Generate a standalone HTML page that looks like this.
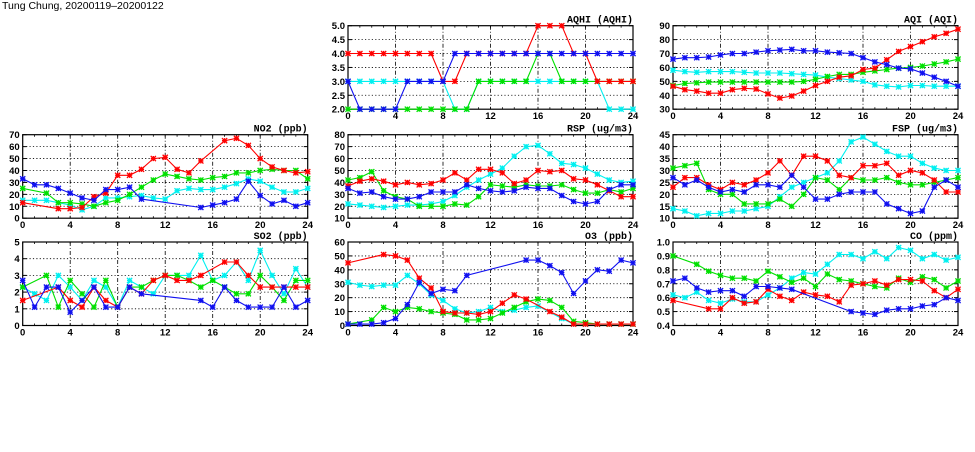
<!DOCTYPE html>
<html><head><meta charset="utf-8"><style>
html,body{margin:0;padding:0;background:#fff;}
svg text{font-family:"Liberation Sans",sans-serif;font-weight:bold;font-size:9.5px;fill:#000;}
svg text.pt{font-family:"Liberation Mono",monospace;font-size:10px;}
</style></head><body>
<svg id="s" width="975" height="447" viewBox="0 0 975 447" xmlns="http://www.w3.org/2000/svg">
<text x="2" y="9" style="font-size:10.5px;font-weight:normal">Tung Chung, 20200119–20200122</text>
</svg>
<script>
const S=document.getElementById('s');const NS='http://www.w3.org/2000/svg';
function el(t,a,txt){const e=document.createElementNS(NS,t);for(const k in a)e.setAttribute(k,a[k]);if(txt!==undefined)e.textContent=txt;S.appendChild(e);return e;}
function arr(a){return a.map((v,i)=>[i,v]);}
function obj(o){return Object.keys(o).map(k=>[+k,o[k]]);}
function fill(a,b,v){const o={};for(let i=a;i<=b;i++)o[i]=v;return o;}
const W=285,H=83.5;
const C={c:'#00f0f0',g:'#00e000',r:'#ff0000',b:'#1010f0'};
const P=[
{x:348,y:25.7,t:'AQHI (AQHI)',min:2,max:5,step:0.5,dec:1,s:{
 c:obj(Object.assign(fill(0,8,3),{9:2,10:2},fill(11,21,3),{22:2,23:2,24:2})),
 g:obj(Object.assign(fill(0,10,2),fill(11,15,3),{16:4,17:4},fill(18,24,3))),
 r:obj(Object.assign(fill(0,7,4),{8:3,9:3},fill(10,15,4),{16:5,17:5,18:5,19:4,20:4},fill(21,24,3))),
 b:obj(Object.assign({0:3,1:2,2:2,3:2,4:2,5:3,6:3,7:3,8:3},fill(9,24,4)))}},
{x:673,y:25.7,t:'AQI (AQI)',min:30,max:90,step:10,dec:0,s:{
 c:arr([58,57,56.5,57,57,57,56.5,56,56,56,55.5,55,54.5,53,52,51,50,47.5,46.5,46,47,47,46.5,46.5,46.5]),
 g:arr([47,48.5,49,49.5,49.5,49.5,49.5,49.5,49.5,49.5,49.5,50,51.5,53.5,55,55,56.5,57.5,58.5,59.5,60,61,62.5,64,66]),
 r:arr([46.5,44,43,41.5,41.5,44,45,44.5,41,38,39.5,43,47,50,53,54,58.5,59.5,65.5,71.5,75,78.5,82,84.5,87.5]),
 b:arr([66,67,67,67.5,69,70,70,71,72,72.5,73,72,72,71,70.5,70,67,64,62,59.5,59,56,53,50,46.5])}},
{x:22.7,y:134.7,t:'NO2 (ppb)',min:0,max:70,step:10,dec:0,s:{
 c:arr([15,15,15,13,11,7,10,17,17,18,19,17,16,23,25,24,24,26,29,33,31,26,22,22,25]),
 g:obj({0:25,2:21,3:13,4:13,5:12,6:10,7:13,8:15,9:20,10:26,11:32,12:37,13:35,14:33,15:32,16:34,17:35,18:38,19:38,20:40,21:41,22:40,23:40,24:33}),
 r:obj({0:13,3:8,4:8,5:9,6:18,7:21,8:36,9:36,10:41,11:50,12:51,13:41,14:38,15:48,17:65,18:67,19:61,20:50,21:43,22:40,23:38,24:39}),
 b:obj({0:33,1:28,2:28,3:25,4:21,5:17,6:15,7:24,8:24,9:26,10:16,15:9,16:11,17:13,18:16,19:31,20:19,21:12,22:15,23:10,24:13})}},
{x:348,y:134.7,t:'RSP (ug/m3)',min:10,max:80,step:10,dec:0,s:{
 c:arr([22,21,20,19,20,21,21,22,24,29,36,42,47,52,62,70,71,64,56,55,52,47,42,40,41]),
 g:arr([42,44,49,33,28,26,20,20,20,22,21,28,38,37,36,38,37,37,38,34,31,31,34,32,35]),
 r:arr([37,41,43,41,38,40,38,39,42,48,42,51,51,48,39,42,50,49,50,43,42,38,33,28,28]),
 b:arr([35,31,32,28,26,26,28,32,32,32,38,35,33,32,33,36,35,35,29,24,22,24,34,38,38])}},
{x:673,y:134.7,t:'FSP (ug/m3)',min:10,max:45,step:5,dec:0,s:{
 c:arr([14,13,11,12,12,13,13,14,15,19,23,25,27,29,34,42,44,41,38,36,36,33,31,30,30]),
 g:arr([31,32,33,22,20,20,16,16,16,18,15,20,27,26,22,27,26,26,27,25,24,24,25,26,27]),
 r:arr([23,27,27,24,22,25,24,26,29,34,28,36,36,34,28,27,32,32,33,28,30,29,26,21,21]),
 b:arr([27,24,26,23,21,22,21,24,24,23,28,23,18,18,20,21,21,21,16,14,12,13,23,26,23])}},
{x:22.7,y:242,t:'SO2 (ppb)',min:0,max:5,step:1,dec:0,s:{
 c:arr([2.3,1.9,1.5,3.0,2.3,1.5,2.7,2.3,1.1,2.7,2.3,1.9,3.0,3.0,3.0,4.2,2.7,3.0,3.8,2.7,4.5,3.0,1.9,3.4,2.3]),
 g:obj({0:2.3,2:3.0,3:1.1,4:2.7,5:1.9,6:1.1,7:2.7,8:1.1,9:2.3,10:2.3,11:2.7,12:3.0,13:3.0,14:2.7,15:2.3,16:2.7,17:2.3,18:1.9,19:1.9,20:3.0,21:2.3,22:1.5,23:2.7,24:2.7}),
 r:obj({0:1.5,3:2.3,4:1.5,5:1.1,6:2.3,7:1.5,8:1.1,9:2.3,10:1.9,11:2.7,12:3.0,13:2.7,14:2.7,15:3.0,17:3.8,18:3.8,19:3.0,20:2.3,21:2.3,22:2.3,23:2.3,24:2.3}),
 b:obj({0:2.7,1:1.1,2:2.3,3:2.3,4:0.8,5:1.5,6:2.3,7:1.1,8:1.1,9:2.3,10:1.9,15:1.5,16:1.1,17:2.3,18:1.5,19:1.1,20:1.1,21:1.1,22:2.3,23:1.1,24:1.5})}},
{x:348,y:242,t:'O3 (ppb)',min:0,max:60,step:10,dec:0,s:{
 c:obj({0:31,1:29,2:28,3:29,4:29,5:36,6:30,7:22,8:18,9:12,10:9,11:10,12:13,13:10,14:11,15:13,16:14,18:5,19:1,20:1,21:1,22:1,23:1,24:1}),
 g:obj({0:1,2:4,3:13,4:10,5:13,6:12,7:10,8:9,9:8,10:4,11:4,12:5,13:9,14:13,15:17,16:19,17:18,18:13,19:3,20:2,21:1,22:1,23:1,24:1}),
 r:obj({0:45,3:51,4:50,5:47,6:34,7:27,8:10,9:9,10:9,11:8,12:10,13:16,14:22,15:19,17:10,18:6,19:1,20:1,21:1,22:1,23:1,24:1}),
 b:obj({0:1,1:1,2:1,3:2,4:5,5:15,6:31,7:23,8:26,9:25,10:36,15:47,16:47,17:43,18:38,19:23,20:32,21:40,22:39,23:47,24:45})}},
{x:673,y:242,t:'CO (ppm)',min:0.4,max:1.0,step:0.1,dec:1,s:{
 c:arr([.62,.60,.64,.58,.56,.59,.57,.57,.62,.67,.74,.78,.77,.84,.91,.91,.88,.93,.88,.96,.94,.88,.91,.87,.89]),
 g:obj({0:.90,2:.84,3:.79,4:.76,5:.74,6:.74,7:.72,8:.79,9:.75,10:.71,11:.74,12:.68,13:.77,14:.73,15:.72,16:.70,17:.68,18:.67,19:.74,20:.71,21:.75,22:.73,23:.67,24:.72}),
 r:obj({0:.58,3:.52,4:.52,5:.60,6:.56,7:.57,8:.66,9:.61,10:.58,11:.64,12:.62,13:.61,14:.57,15:.69,16:.70,17:.72,18:.69,19:.73,20:.73,21:.72,22:.65,23:.60,24:.66}),
 b:obj({0:.72,1:.74,2:.67,3:.64,4:.65,5:.65,6:.61,7:.68,8:.68,9:.67,10:.66,15:.50,16:.49,17:.48,18:.51,19:.52,20:.52,21:.54,22:.55,23:.60,24:.58})}}
];
for(const p of P){
 const X=h=>p.x+h/24*W, Y=v=>p.y+H-(v-p.min)/(p.max-p.min)*H;
 const n=Math.round((p.max-p.min)/p.step);
 for(let i=0;i<=n;i++){const v=p.min+i*p.step,y=Y(v);
  if(i>0&&i<n)el('line',{x1:p.x,x2:p.x+W,y1:y,y2:y,stroke:'#000','stroke-width':0.8,'stroke-dasharray':'1.2,2.2'});
  el('line',{x1:p.x,x2:p.x+4,y1:y,y2:y,stroke:'#000','stroke-width':1});
  el('line',{x1:p.x+W-4,x2:p.x+W,y1:y,y2:y,stroke:'#000','stroke-width':1});
  el('text',{x:p.x-3,y:y+3.5,'text-anchor':'end'},v.toFixed(p.dec));}
 for(let h=0;h<=24;h+=4){const x=X(h);
  if(h>0&&h<24)el('line',{x1:x,x2:x,y1:p.y,y2:p.y+H,stroke:'#000','stroke-width':0.8,'stroke-dasharray':'4,2,1,2'});
  el('text',{x:x,y:p.y+H+10,'text-anchor':'middle'},h);}
 for(let h=0;h<=24;h++){const x=X(h);el('line',{x1:x,x2:x,y1:p.y+H,y2:p.y+H-2,stroke:'#000','stroke-width':0.8});el('line',{x1:x,x2:x,y1:p.y,y2:p.y+2,stroke:'#000','stroke-width':0.8});}
 el('rect',{x:p.x,y:p.y,width:W,height:H,fill:'none',stroke:'#000','stroke-width':1.2});
 el('text',{x:p.x+W,y:p.y-3,'text-anchor':'end','class':'pt'},p.t);
 for(const k of ['c','g','r','b']){const pts=p.s[k],col=C[k];
  el('polyline',{points:pts.map(q=>X(q[0]).toFixed(1)+','+Y(q[1]).toFixed(1)).join(' '),fill:'none',stroke:col,'stroke-width':1.1});
  for(const q of pts){const x=X(q[0]),y=Y(q[1]),d=2.6;
   el('path',{d:`M${x-d},${y-d}L${x+d},${y+d}M${x-d},${y+d}L${x+d},${y-d}M${x-d},${y}L${x+d},${y}M${x},${y-d}L${x},${y+d}`,stroke:col,'stroke-width':1.3,fill:'none'});}}
}
</script>
</body></html>
